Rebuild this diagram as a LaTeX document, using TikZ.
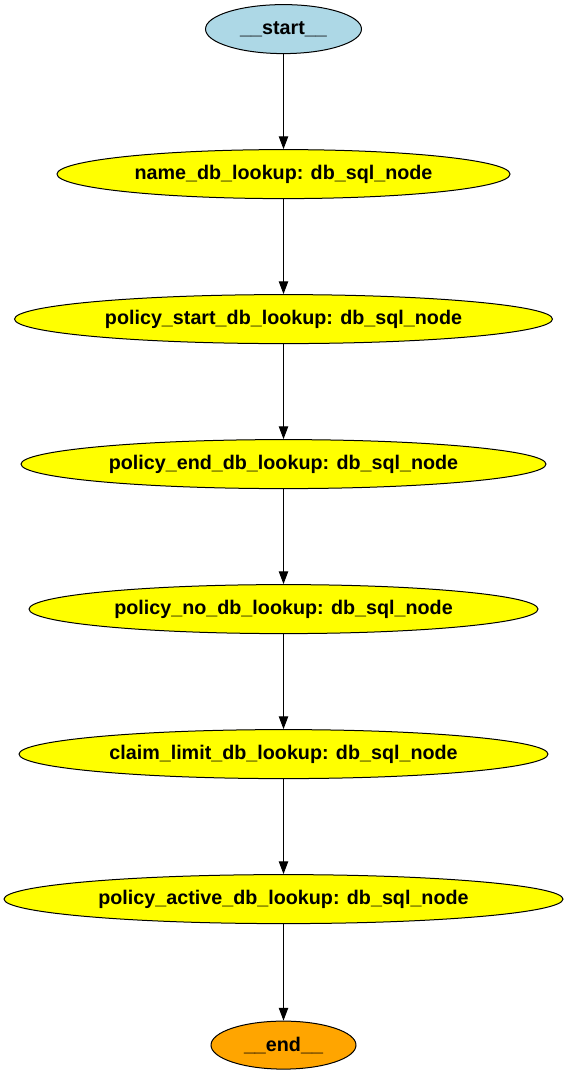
\documentclass[tikz,border=0pt]{standalone}
\usepackage{fontspec}
\setmainfont{Liberation Sans}
\usetikzlibrary{shapes.geometric,arrows.meta}
\definecolor{startblue}{RGB}{173,216,230}
\definecolor{endorange}{RGB}{255,165,0}
\definecolor{nodeyellow}{RGB}{255,255,0}
\tikzset{
  gnode/.style 2 args={ellipse, draw=black, line width=0.75pt, inner sep=0pt,
    minimum width=#1*0.75pt, minimum height=#2*0.75pt, yshift=-1.2pt,
    font=\fontsize{14.8pt}{17pt}\selectfont\bfseries},
  ynode/.style={fill=nodeyellow},
  edge/.style={draw=black, line width=0.75pt, -{Triangle[length=9.5pt,width=7pt]}}
}
\begin{document}
\begin{tikzpicture}[x=0.75pt,y=-0.75pt]
\useasboundingbox (0,0) rectangle (567,1075);
\node[gnode={156}{49}, fill=startblue] (start) at (283.5,27.5) {\_\_start\_\_};
\node[gnode={453}{49}, ynode] (name) at (283.5,172.5) {name\_db\_lookup: db\_sql\_node};
\node[gnode={538}{49}, ynode] (pstart) at (283.5,317.5) {policy\_start\_db\_lookup: db\_sql\_node};
\node[gnode={525}{49}, ynode] (pend) at (283.5,462.5) {policy\_end\_db\_lookup: db\_sql\_node};
\node[gnode={509}{49}, ynode] (pno) at (283.5,607.5) {policy\_no\_db\_lookup: db\_sql\_node};
\node[gnode={529}{49}, ynode] (claim) at (283.5,752.5) {claim\_limit\_db\_lookup: db\_sql\_node};
\node[gnode={559}{49}, ynode] (pactive) at (283.5,897.5) {policy\_active\_db\_lookup: db\_sql\_node};
\node[gnode={145}{48}, fill=endorange] (end) at (283.5,1043.5) {\_\_end\_\_};
\draw[edge] (start) -- (name);
\draw[edge] (name) -- (pstart);
\draw[edge] (pstart) -- (pend);
\draw[edge] (pend) -- (pno);
\draw[edge] (pno) -- (claim);
\draw[edge] (claim) -- (pactive);
\draw[edge] (pactive) -- (end);
\end{tikzpicture}
\end{document}
